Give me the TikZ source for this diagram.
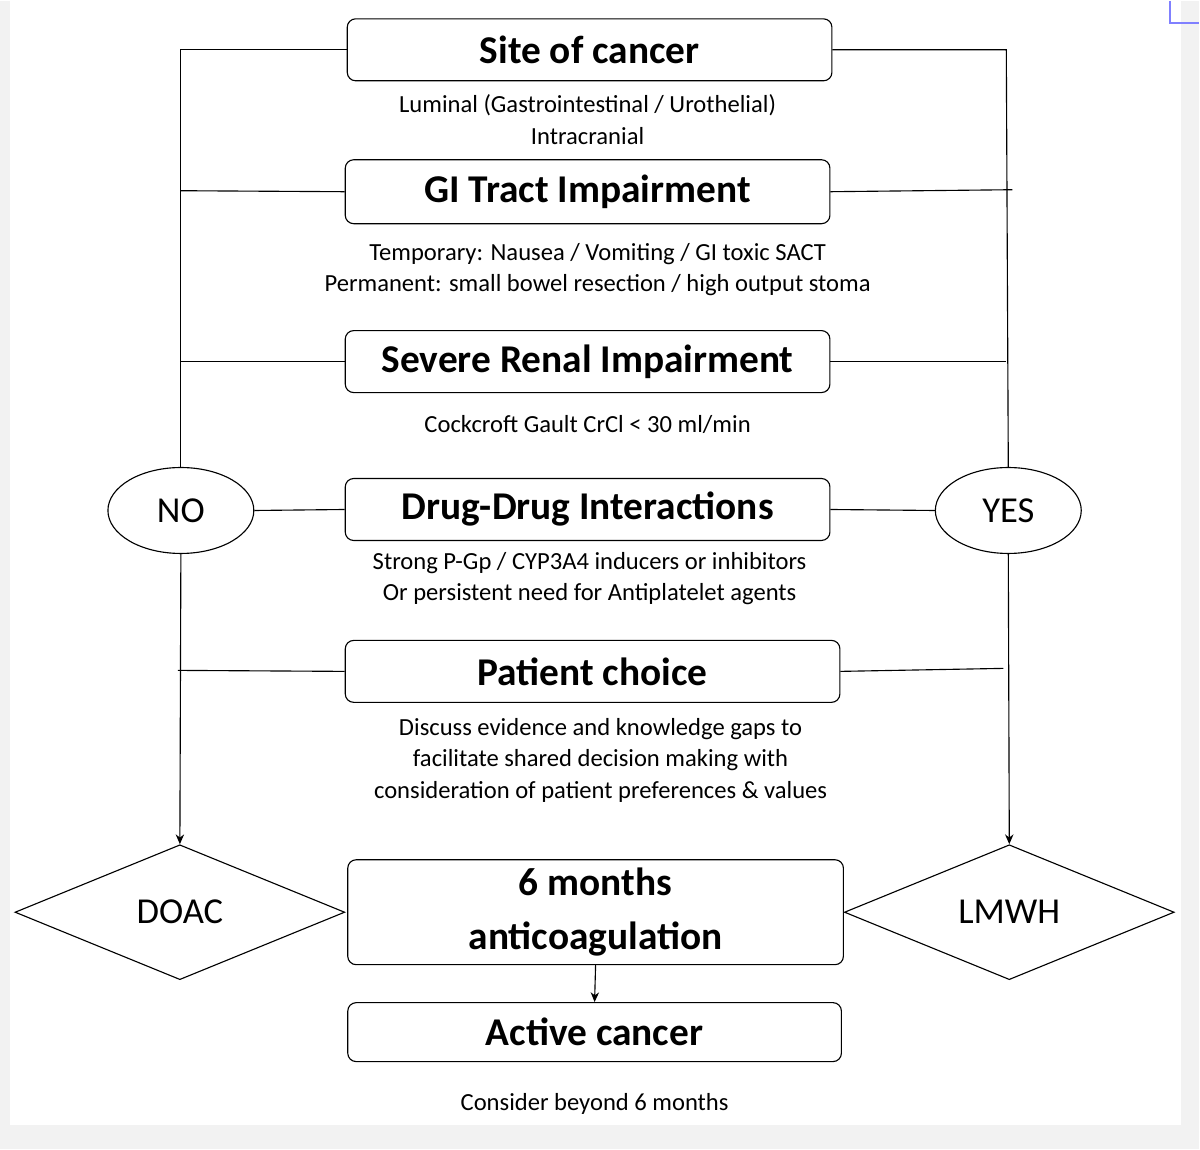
\documentclass[tikz,border=0pt]{standalone}
\usepackage{fontspec}
\setmainfont{Carlito}
\usetikzlibrary{shapes.geometric,arrows.meta}
\begin{document}
\begin{tikzpicture}[x=0.025cm,y=-0.025cm,
  box/.style={draw,thick,rounded corners=6pt,inner sep=0pt,font=\fontsize{28}{30}\selectfont\bfseries,align=center},
  sub/.style={font=\fontsize{17.5}{22.5}\selectfont,align=center,inner sep=0pt},
  ell/.style={draw,thick,ellipse,minimum width=146*0.025cm,minimum height=86*0.025cm,inner sep=0pt,font=\fontsize{26}{28}\selectfont},
  dia/.style={draw,thick,diamond,minimum width=330*0.025cm,minimum height=135*0.025cm,inner sep=0pt,aspect=2.4,font=\fontsize{26}{28}\selectfont},
  ln/.style={thick},
  arr/.style={thick,-{Stealth[length=7pt,width=6pt]}}]
\fill[black!5] (0,0) rectangle (1200,1149);
\fill[white] (10,0) rectangle (1182,1125);
\draw[blue!50,very thick] (1171,0) -- (1171,22) -- (1200,22);
\useasboundingbox (0,0) rectangle (1200,1149);
\node[box,minimum width=485*0.025cm,minimum height=62*0.025cm] (site) at (590,49) {Site of cancer};
\node[box,minimum width=485*0.025cm,minimum height=64*0.025cm] (gi) at (588,191) {GI Tract Impairment};
\node[box,minimum width=485*0.025cm,minimum height=62*0.025cm] (ren) at (588,361) {Severe Renal Impairment};
\node[box,minimum width=485*0.025cm,minimum height=62*0.025cm] (ddi) at (588,509) {Drug-Drug Interactions};
\node[box,minimum width=495*0.025cm,minimum height=62*0.025cm] (pc) at (593,671) {Patient choice};
\node[box,minimum width=496*0.025cm,minimum height=105*0.025cm,font=\fontsize{28}{38}\selectfont\bfseries] (six) at (596,912) {6 months\\anticoagulation};
\node[box,minimum width=494*0.025cm,minimum height=59*0.025cm] (act) at (595,1032) {Active cancer};
\node[sub] (t1) at (588,119) {Luminal (Gastrointestinal / Urothelial)\\Intracranial};
\node[sub] (t2) at (598,269) {Temporary: Nausea / Vomiting / GI toxic SACT\\Permanent: small bowel resection / high output stoma};
\node[sub] (t3) at (588,424) {Cockcroft Gault CrCl < 30 ml/min};
\node[sub] (t4) at (590,578) {Strong P-Gp / CYP3A4 inducers or inhibitors\\Or persistent need for Antiplatelet agents};
\node[sub] (t5) at (601,760) {Discuss evidence and knowledge gaps to\\facilitate shared decision making with\\consideration of patient preferences \& values};
\node[sub] (t6) at (595,1104) {Consider beyond 6 months};
\node[ell] (no) at (181,510) {NO};
\node[ell] (yes) at (1009,510) {YES};
\node[dia] (doac) at (180,912) {DOAC};
\node[dia] (lmwh) at (1010,912) {LMWH};
\coordinate (l1) at (181,49); \coordinate (l2) at (181,190); \coordinate (l3) at (181,361); \coordinate (l5) at (178,670);
\coordinate (r1) at (1007,49); \coordinate (r2) at (1013,189); \coordinate (r3) at (1007,361); \coordinate (r5) at (1004,668);
\draw[ln] (site.west) -- (l1) -- (no.north);
\draw[ln] (gi.west) -- (l2); \draw[ln] (ren.west) -- (l3);
\draw[ln] (ddi.west) -- (no.east); \draw[ln] (pc.west) -- (l5);
\draw[ln] (site.east) -- (r1) -- (yes.north);
\draw[ln] (gi.east) -- (r2); \draw[ln] (ren.east) -- (r3);
\draw[ln] (ddi.east) -- (yes.west); \draw[ln] (pc.east) -- (r5);
\draw[arr] (no.south) -- (doac.north);
\draw[arr] (yes.south) -- (lmwh.north);
\draw[arr] (six.south) -- (act.north);
\end{tikzpicture}
\end{document}
